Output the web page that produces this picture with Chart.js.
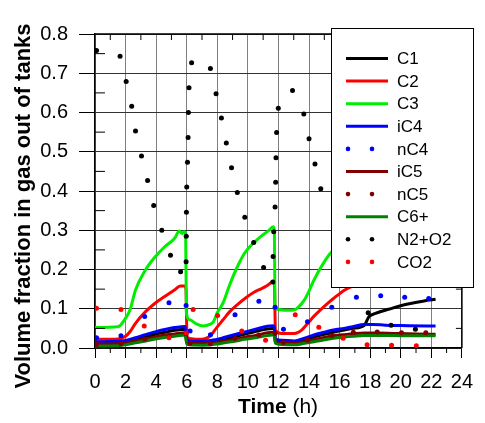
<!DOCTYPE html>
<html>
<head>
<meta charset="utf-8">
<script src="https://cdn.jsdelivr.net/npm/chart.js@4.4.0/dist/chart.umd.min.js"></script>
<style>body{margin:0;background:#fff}</style>
</head>
<body>
<canvas id="gasChart" width="485" height="423"></canvas>
<script>
// values (time in h, volume fraction)
var c3T = [0, 1.5, 2.0, 2.3, 2.65, 3.29, 3.93, 4.56, 5.2, 5.52, 5.68, 5.83, 5.93, 5.98, 6.2, 6.6, 7.1, 7.5, 7.75, 8.0, 8.38, 8.8, 9.23, 9.76, 10.08, 10.5, 10.93, 11.3, 11.67, 11.73, 11.78, 12.0, 12.5, 13.05, 13.4, 13.69, 14.0, 14.32, 15.07, 15.6, 16.4, 17.2, 17.7];
var c3V = [0.052, 0.054, 0.076, 0.098, 0.148, 0.198, 0.232, 0.258, 0.279, 0.298, 0.292, 0.296, 0.29, 0.088, 0.072, 0.062, 0.056, 0.06, 0.067, 0.09, 0.115, 0.16, 0.2, 0.24, 0.256, 0.272, 0.287, 0.297, 0.309, 0.3, 0.105, 0.098, 0.096, 0.097, 0.108, 0.122, 0.145, 0.173, 0.224, 0.25, 0.275, 0.29, 0.3];

var c2T = [0, 1.5, 2.0, 2.3, 2.65, 3.29, 3.93, 4.56, 5.2, 5.58, 5.85, 5.95, 6.02, 6.2, 6.68, 7.2, 7.53, 7.96, 8.38, 8.8, 9.3, 9.87, 10.4, 10.93, 11.3, 11.67, 11.74, 11.8, 12.2, 13.05, 13.5, 13.9, 14.3, 14.75, 15.2, 15.6, 16.34, 17.0, 17.7];
var c2V = [0.022, 0.023, 0.03, 0.042, 0.063, 0.092, 0.114, 0.131, 0.148, 0.158, 0.158, 0.15, 0.03, 0.024, 0.022, 0.024, 0.03, 0.052, 0.072, 0.092, 0.11, 0.128, 0.142, 0.152, 0.16, 0.169, 0.16, 0.045, 0.037, 0.037, 0.045, 0.062, 0.08, 0.097, 0.113, 0.126, 0.148, 0.16, 0.17];

var lowT = [0, 1.5, 2.0, 2.65, 3.3, 3.93, 4.56, 5.2, 5.9, 6.0, 6.15, 7.1, 7.96, 8.38, 9.23, 9.76, 10.5, 11.6, 11.72, 11.8, 12.2, 13.05, 13.7, 14.32, 15.0, 15.6, 16.3, 16.87, 17.6];
var ic4V = [0.016, 0.017, 0.019, 0.026, 0.034, 0.041, 0.047, 0.052, 0.055, 0.024, 0.018, 0.017, 0.022, 0.026, 0.035, 0.04, 0.048, 0.057, 0.056, 0.024, 0.02, 0.018, 0.025, 0.033, 0.04, 0.046, 0.05, 0.054, 0.06];
var c1V = [0.013, 0.014, 0.016, 0.021, 0.028, 0.035, 0.04, 0.045, 0.048, 0.02, 0.015, 0.014, 0.018, 0.021, 0.03, 0.035, 0.042, 0.05, 0.05, 0.02, 0.016, 0.015, 0.021, 0.028, 0.035, 0.04, 0.046, 0.05, 0.057];
var ic5V = [0.01, 0.011, 0.013, 0.018, 0.023, 0.028, 0.033, 0.036, 0.039, 0.015, 0.012, 0.011, 0.014, 0.017, 0.023, 0.027, 0.032, 0.04, 0.04, 0.016, 0.013, 0.012, 0.016, 0.021, 0.027, 0.031, 0.034, 0.036, 0.038];
var c6V = [0.005, 0.006, 0.008, 0.013, 0.018, 0.023, 0.027, 0.03, 0.033, 0.011, 0.008, 0.007, 0.01, 0.013, 0.018, 0.022, 0.026, 0.033, 0.033, 0.012, 0.009, 0.008, 0.012, 0.016, 0.021, 0.025, 0.028, 0.03, 0.032];

// tails after 18 h
var ic4TailT = [18.2, 19.0, 20.5, 22.28];
var ic4TailV = [0.06, 0.058, 0.057, 0.056];
var c1TailT = [17.93, 18.35, 19.41, 20.47, 21.53, 22.28];
var c1TailV = [0.08, 0.088, 0.101, 0.112, 0.12, 0.124];
var ic5TailT = [18.5, 19.5, 20.5, 22.28];
var ic5TailV = [0.038, 0.037, 0.036, 0.035];
var c6TailT = [18.5, 19.5, 20.5, 22.28];
var c6TailV = [0.032, 0.032, 0.031, 0.031];

var nc4T = [0.1, 1.7, 3.25, 4.84, 5.96, 6.22, 7.55, 9.16, 10.72, 11.78, 12.33, 13.9, 15.49, 17.1, 18.69, 20.26, 21.83];
var nc4V = [0.026, 0.031, 0.08, 0.115, 0.108, 0.043, 0.034, 0.085, 0.119, 0.104, 0.048, 0.067, 0.104, 0.129, 0.133, 0.129, 0.126];

var nc5T = [0.1, 1.7, 3.25, 4.84, 5.96, 6.22, 7.55, 9.16, 10.72, 11.78, 12.33, 13.9, 15.49, 16.9, 18.46, 20.05, 21.64];
var nc5V = [0.009, 0.011, 0.022, 0.032, 0.036, 0.012, 0.011, 0.024, 0.033, 0.037, 0.014, 0.02, 0.032, 0.04, 0.041, 0.039, 0.039];

var n2T = [0.1, 1.64, 2.04, 2.4, 2.65, 3.04, 3.44, 3.84, 4.37, 4.94, 5.6, 5.96, 5.97, 5.98, 6.0, 6.05, 6.09, 6.11, 6.15, 6.32, 7.55, 7.92, 8.27, 8.59, 8.93, 9.31, 9.8, 10.38, 11.03, 11.63, 11.65, 11.69, 11.78, 11.82, 11.84, 11.88, 11.99, 12.92, 13.66, 14.0, 14.39, 14.77, 17.87, 19.37, 20.96];
var n2V = [0.758, 0.743, 0.679, 0.616, 0.553, 0.489, 0.427, 0.363, 0.3, 0.236, 0.194, 0.22, 0.285, 0.346, 0.41, 0.473, 0.536, 0.6, 0.663, 0.727, 0.712, 0.648, 0.586, 0.522, 0.459, 0.396, 0.333, 0.269, 0.205, 0.168, 0.233, 0.296, 0.359, 0.422, 0.485, 0.549, 0.611, 0.656, 0.596, 0.533, 0.469, 0.406, 0.09, 0.058, 0.048];

var co2T = [0.1, 1.7, 3.22, 4.84, 5.96, 6.42, 8.02, 9.6, 11.16, 13.1, 14.64, 16.23, 17.8, 19.4, 21.02];
var co2V = [0.101, 0.098, 0.056, 0.026, 0.038, 0.098, 0.083, 0.043, 0.02, 0.085, 0.053, 0.025, 0.008, 0.007, 0.006];

function pts(t, v) {
  return t.map(function (x, i) { return {x: x, y: v[i]}; });
}

function line(label, data, color, order) {
  return {label: label, data: data, showLine: true, borderColor: color, backgroundColor: color,
    borderWidth: 3, pointRadius: 0, cubicInterpolationMode: 'monotone', order: order};
}
function dots(label, data, color, order) {
  return {label: label, data: data, showLine: false, borderColor: color, backgroundColor: color,
    borderWidth: 0, pointRadius: 2.5, order: order};
}

Chart.defaults.font.family = '"Liberation Sans", Arial, sans-serif';
Chart.defaults.color = '#000';

var frame = {
  id: 'frame',
  afterDraw: function (chart) {
    var ctx = chart.ctx, a = chart.chartArea;
    var xs = chart.scales.x, ys = chart.scales.y;
    ctx.save();
    ctx.strokeStyle = '#000';
    ctx.lineWidth = 1.5;
    ctx.beginPath();
    ctx.moveTo(a.left, a.top); ctx.lineTo(a.right, a.top); ctx.lineTo(a.right, a.bottom);
    ctx.stroke();
    ctx.lineWidth = 1;
    ctx.beginPath();
    for (var h = 1; h < 24; h += 2) {
      var px = xs.getPixelForValue(h);
      ctx.moveTo(px, a.bottom); ctx.lineTo(px, a.bottom + 5);
      ctx.moveTo(px, a.top); ctx.lineTo(px, a.top + 6);
    }
    for (var k = 0; k < 8; k++) {
      var py = ys.getPixelForValue(0.05 + k * 0.1);
      ctx.moveTo(a.left, py); ctx.lineTo(a.left + 10, py);
      ctx.moveTo(a.right, py); ctx.lineTo(a.right - 6, py);
    }
    ctx.stroke();

    // axis titles
    ctx.fillStyle = '#000';
    ctx.textBaseline = 'alphabetic';
    ctx.font = 'bold 21px "Liberation Sans", Arial, sans-serif';
    var w1 = ctx.measureText('Time').width;
    ctx.font = '21px "Liberation Sans", Arial, sans-serif';
    var w2 = ctx.measureText(' (h)').width;
    var x0 = 278 - (w1 + w2) / 2;
    ctx.font = 'bold 21px "Liberation Sans", Arial, sans-serif';
    ctx.textAlign = 'left';
    ctx.fillText('Time', x0, 413);
    ctx.font = '21px "Liberation Sans", Arial, sans-serif';
    ctx.fillText(' (h)', x0 + w1, 413);

    ctx.save();
    ctx.translate(30, 206);
    ctx.rotate(-Math.PI / 2);
    ctx.textAlign = 'center';
    ctx.font = 'bold 22px "Liberation Sans", Arial, sans-serif';
    ctx.fillText('Volume fraction in gas out of tanks', 0, 0);
    ctx.restore();

    // legend box
    ctx.fillStyle = '#fff';
    ctx.fillRect(331, 28, 143, 260);
    ctx.strokeStyle = '#000';
    ctx.lineWidth = 1;
    ctx.strokeRect(331.5, 28.5, 142, 259);
    ctx.font = '17px "Liberation Sans", Arial, sans-serif';
    ctx.textBaseline = 'middle';
    ctx.textAlign = 'left';
    chart.data.datasets.forEach(function (ds, i) {
      var y = 58.5 + i * 22.6;
      if (ds.showLine) {
        ctx.strokeStyle = ds.borderColor;
        ctx.lineWidth = 3;
        ctx.beginPath(); ctx.moveTo(346, y); ctx.lineTo(388, y); ctx.stroke();
      } else {
        ctx.fillStyle = ds.backgroundColor;
        [348, 372].forEach(function (cx) {
          ctx.beginPath(); ctx.arc(cx, y, 2.3, 0, Math.PI * 2); ctx.fill();
        });
      }
      ctx.fillStyle = '#000';
      ctx.fillText(ds.label, 397, y + 1);
    });
    ctx.restore();
  }
};

new Chart(document.getElementById('gasChart'), {
  type: 'scatter',
  data: {
    datasets: [
      line('C1', pts(lowT, c1V).concat(pts(c1TailT, c1TailV)), '#000000', 10),
      line('C2', pts(c2T, c2V), '#ff0000', 9),
      line('C3', pts(c3T, c3V), '#00ee00', 8),
      line('iC4', pts(lowT, ic4V).concat(pts(ic4TailT, ic4TailV)), '#0000ff', 7),
      dots('nC4', pts(nc4T, nc4V), '#0000ff', 3),
      line('iC5', pts(lowT, ic5V).concat(pts(ic5TailT, ic5TailV)), '#800000', 6),
      dots('nC5', pts(nc5T, nc5V), '#800000', 2),
      line('C6+', pts(lowT, c6V).concat(pts(c6TailT, c6TailV)), '#008000', 5),
      dots('N2+O2', pts(n2T, n2V), '#000000', 1),
      dots('CO2', pts(co2T, co2V), '#ff0000', 0)
    ]
  },
  options: {
    responsive: false,
    animation: false,
    devicePixelRatio: 1,
    layout: {padding: {top: 34, right: 13, left: 0, bottom: 0}},
    plugins: {legend: {display: false}, tooltip: {enabled: false}},
    scales: {
      x: {
        type: 'linear', min: 0, max: 24,
        ticks: {stepSize: 2, font: {size: 20}, padding: 12, maxRotation: 0, autoSkip: false},
        grid: {color: '#808080', tickColor: '#000', tickLength: 10, lineWidth: 1},
        border: {color: '#000', width: 1.5},
        afterFit: function (s) { s.height = 75; }
      },
      y: {
        min: 0, max: 0.8,
        ticks: {stepSize: 0.1, font: {size: 20}, padding: 11,
          callback: function (v) { return v.toFixed(1); }},
        grid: {color: '#333', tickColor: '#000', tickLength: 16, lineWidth: 1},
        border: {color: '#000', width: 1.5},
        afterFit: function (s) { s.width = 95; }
      }
    }
  },
  plugins: [frame]
});
</script>
</body>
</html>
